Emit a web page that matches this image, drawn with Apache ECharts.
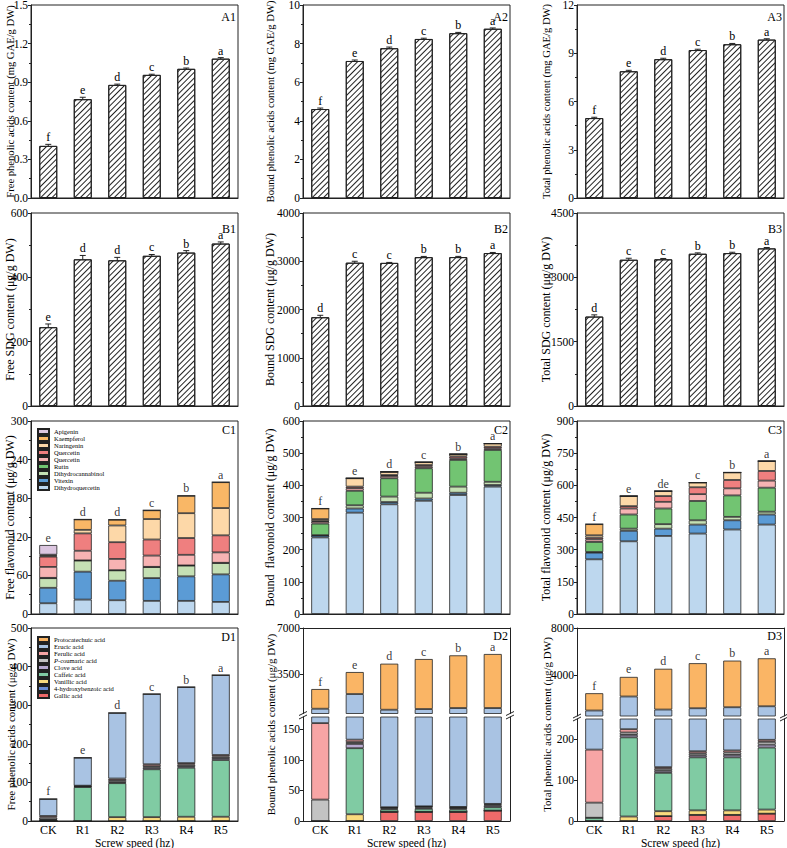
<!DOCTYPE html>
<html>
<head>
<meta charset="utf-8">
<script src="https://cdn.jsdelivr.net/npm/echarts@6/dist/echarts.min.js"></script>
<style>
html, body { margin: 0; padding: 0; background: #fff; }
#chart { width: 787px; height: 848px; }
</style>
</head>
<body>
<div id="chart"></div>
<script>
const categories = ['CK', 'R1', 'R2', 'R3', 'R4', 'R5'];

// A: phenolic acids (mg GAE/g DW)
const freePhenolic = [0.405, 0.768, 0.879, 0.957, 1.004, 1.083];
const freePhenolicErr = [0.012, 0.015, 0.006, 0.005, 0.006, 0.008];
const freePhenolicSig = ['f', 'e', 'd', 'c', 'b', 'a'];
const boundPhenolic = [4.61, 7.10, 7.76, 8.24, 8.54, 8.77];
const boundPhenolicErr = [0.05, 0.05, 0.06, 0.04, 0.04, 0.04];
const boundPhenolicSig = ['f', 'e', 'd', 'c', 'b', 'a'];
const totalPhenolic = [4.97, 7.88, 8.63, 9.20, 9.56, 9.85];
const totalPhenolicErr = [0.05, 0.06, 0.06, 0.05, 0.05, 0.05];
const totalPhenolicSig = ['f', 'e', 'd', 'c', 'b', 'a'];

// B: SDG (μg/g DW)
const freeSDG = [245, 456, 453, 467, 477, 505];
const freeSDGErr = [10, 12, 9, 4, 6, 5];
const freeSDGSig = ['e', 'd', 'd', 'c', 'b', 'a'];
const boundSDG = [1840, 2970, 2966, 3085, 3086, 3170];
const boundSDGErr = [40, 30, 10, 15, 15, 12];
const boundSDGSig = ['d', 'c', 'c', 'b', 'b', 'a'];
const totalSDG = [2085, 3410, 3420, 3550, 3565, 3675];
const totalSDGErr = [40, 35, 20, 20, 20, 20];
const totalSDGSig = ['d', 'c', 'c', 'b', 'b', 'a'];

// C: flavonoids, stacked bottom -> top
const flavonoidNames = ['Dihydroquercetin', 'Vitexin', 'Dihydrocannabinol', 'Rutin', 'Quercetin ', 'Quercetin', 'Naringenin', 'Kaempferol', 'Apigenin'];
const freeFlavonoid = [
  [16.7, 22.4, 21.4, 20.4, 20.4, 18.8],
  [24, 43.4, 30.3, 35.4, 38.1, 42.8],
  [15, 17.2, 16.1, 17.2, 16.7, 17.7],
  [0.5, 0.3, 0.3, 0.3, 0.3, 0.3],
  [17, 15, 17.5, 17.5, 16.5, 16.2],
  [16, 27, 26, 25, 26.1, 26.5],
  [1.5, 5.5, 26, 31.8, 38.6, 42.4],
  [1.5, 16.2, 9, 13.6, 27.1, 40.2],
  [15, 0, 0, 0, 0, 0]
];
const freeFlavonoidSig = ['e', 'd', 'd', 'c', 'b', 'a'];
const boundFlavonoid = [
  [238, 315, 341, 352, 370, 396],
  [6, 13, 7, 7, 7, 5],
  [1, 10, 17, 18, 19, 10],
  [36, 45, 57, 76, 83, 99],
  [6, 8, 7, 5, 5, 5],
  [2, 5, 3, 5, 6, 5],
  [6, 26, 10, 9, 7, 10],
  [33, 0, 0, 0, 0, 0],
  [0, 0, 0, 0, 0, 0]
];
const boundFlavonoidSig = ['f', 'e', 'd', 'c', 'b', 'a'];
const totalFlavonoid = [
  [255, 339, 364, 375, 394, 417],
  [31, 49, 34, 42, 43, 47],
  [3, 10, 21, 20, 16, 13],
  [47, 66, 73, 90, 100, 112],
  [12, 28, 31, 32, 33, 33],
  [8, 11, 27, 32, 39, 45],
  [11, 47, 23, 22, 35, 46],
  [52, 0, 0, 0, 0, 0],
  [0, 0, 0, 0, 0, 0]
];
const totalFlavonoidSig = ['f', 'e', 'de', 'c', 'b', 'a'];

// D: phenolic acid composition, stacked bottom -> top
const acidNames = ['Gallic acid', '4-hydroxybenzoic acid', 'Vanillic acid', 'Caffeic acid', 'Clove acid', 'P-coumaric acid', 'Ferulic acid', 'Erucic acid', 'Protocatechuic acid'];
const freeAcid = [
  [0, 0, 0, 0, 0, 0],
  [0, 0, 0, 0, 0, 0],
  [0, 0, 10, 10, 11, 11],
  [3, 88, 88, 124, 127, 147],
  [1, 1.5, 3, 4, 4, 5],
  [5, 1, 5, 4, 4, 4],
  [4, 1, 4, 5, 4, 4],
  [44, 72.5, 170, 182, 197, 207],
  [0, 0, 0, 0, 0, 0]
];
const freeAcidSig = ['f', 'e', 'd', 'c', 'b', 'a'];
const boundAcid = [
  [0, 0, 15, 15, 15, 17],
  [0, 0, 0, 0, 0, 0],
  [0, 11, 0, 0, 0, 0],
  [0, 108, 4, 5, 4, 5.5],
  [0, 7, 1.5, 2, 2, 2.5],
  [35, 3, 1.5, 1.5, 1.5, 2],
  [125, 4, 0.5, 0.5, 0.5, 1],
  [703, 1846, 765, 814, 891, 886],
  [1496, 1673, 3499, 3803, 4006, 4108]
];
const boundAcidSig = ['f', 'e', 'd', 'c', 'b', 'a'];
const totalAcid = [
  [0, 0, 12, 15, 15, 18],
  [0, 0, 0, 0, 0, 0],
  [0, 11, 12, 11, 11, 10],
  [8, 194, 94, 130, 130, 152],
  [0, 6, 5, 5, 6, 7],
  [37, 6, 5, 5, 6, 7],
  [130, 8, 4, 5, 5, 5],
  [792, 1937, 918, 990, 1072, 1129],
  [1473, 1668, 3475, 3839, 3975, 4087]
];
const totalAcidSig = ['f', 'e', 'd', 'c', 'b', 'a'];

// styling
const flavonoidColors = ['#bdd7ee', '#5b9bd5', '#c5e0b4', '#72c472', '#f7b3b3', '#ef7f7f', '#fdd8a8', '#f9b766', '#dcc6e0'];
const acidColors = ['#f06a6a', '#6b8ed6', '#fadb7e', '#80cba3', '#b7a9cf', '#c3c3c3', '#f7a5a5', '#a9c3e3', '#fab565'];
const FONT = 'Liberation Serif';
const INK = '#222';
const BAR_W = 18;
const colLeft = [31, 303, 577];
const rowTop = [5, 213, 421, 628];
const PW = 207, PH = 193;
const nameGaps = [15, 27, 25];
const nameSizes = [10.6, 12, 12, 11];
const HATCH = { symbol: 'rect', symbolSize: 1, dashArrayX: [1, 0], dashArrayY: [1, 2.2], rotation: -Math.PI / 4, color: INK };
const plain = v => String(v);

const grids = [], xAxes = [], yAxes = [], series = [], graphics = [];

function addGrid(left, top, width, height, frame) {
  grids.push({ left, top, width, height, show: frame, borderColor: INK, borderWidth: 1,
    backgroundColor: 'transparent', containLabel: false, outerBoundsMode: 'none' });
  return grids.length - 1;
}

function addX(gi, opts) {
  opts = opts || {};
  xAxes.push({
    type: 'category', gridIndex: gi, data: categories, boundaryGap: true,
    position: opts.position || 'bottom', show: opts.show !== false,
    axisLine: { show: true, onZero: false, lineStyle: { color: INK, width: 1 } },
    axisTick: { show: false },
    axisLabel: { show: !!opts.labels, color: '#000', fontFamily: FONT, fontSize: 12, margin: 3 },
    splitLine: { show: false },
    name: opts.name || '', nameLocation: 'middle', nameGap: 12,
    nameTextStyle: { color: '#000', fontFamily: FONT, fontSize: 11.5 }
  });
  return xAxes.length - 1;
}

function addY(gi, opts) {
  const ax = {
    type: 'value', gridIndex: gi, min: opts.min, max: opts.max, interval: opts.interval,
    position: opts.position || 'left',
    axisLine: { show: opts.line !== false, onZero: false, lineStyle: { color: INK, width: 1 } },
    axisTick: { show: !!opts.ticks, inside: false, length: 3, lineStyle: { color: INK } },
    minorTick: { show: !!opts.minor, splitNumber: 2, length: 2, lineStyle: { color: INK } },
    axisLabel: { show: !!opts.ticks, color: '#000', fontFamily: FONT, fontSize: 11.5, margin: 3,
      formatter: opts.formatter || plain },
    splitLine: { show: false }, minorSplitLine: { show: false },
    name: opts.name || '', nameLocation: 'middle', nameRotate: 90, nameGap: opts.nameGap || 20,
    nameMoveOverlap: false,
    nameTextStyle: { color: '#000', fontFamily: FONT, fontSize: opts.nameSize || 12 }
  };
  if (opts.custom) {
    ax.axisLabel.customValues = opts.custom;
    ax.axisTick.customValues = opts.custom;
  }
  yAxes.push(ax);
  return yAxes.length - 1;
}

function panelTag(text, gi, dy) {
  const g = grids[gi];
  graphics.push({ type: 'text', right: 787 - (g.left + g.width) + 2, top: g.top + dy,
    style: { text, font: '12px ' + FONT, fill: '#000' } });
}

function errorBar(api, sig) {
  const i = api.value(0), v = api.value(1), e = api.value(2);
  const hi = api.coord([i, v + e]), lo = api.coord([i, v - e]);
  const x = hi[0], cap = 3;
  const st = { stroke: INK, lineWidth: 1 };
  return { type: 'group', children: [
    { type: 'line', shape: { x1: x, y1: hi[1], x2: x, y2: lo[1] }, style: st },
    { type: 'line', shape: { x1: x - cap, y1: hi[1], x2: x + cap, y2: hi[1] }, style: st },
    { type: 'line', shape: { x1: x - cap, y1: lo[1], x2: x + cap, y2: lo[1] }, style: st },
    { type: 'text', x: x, y: hi[1] - 1, style: { text: sig[i], align: 'center', verticalAlign: 'bottom', fill: '#000', font: '12px ' + FONT } }
  ] };
}

function hatchPanel(col, row, vals, errs, sig, max, interval, name, tag, digits) {
  const gi = addGrid(colLeft[col], rowTop[row], PW, PH, true);
  const xi = addX(gi);
  const yi = addY(gi, { min: 0, max, interval, ticks: true, minor: true, name, nameGap: nameGaps[col],
    nameSize: nameSizes[row], formatter: v => v.toFixed(digits) });
  series.push({ type: 'bar', xAxisIndex: xi, yAxisIndex: yi, data: vals, barWidth: BAR_W, silent: true,
    itemStyle: { color: '#fff', borderColor: INK, borderWidth: 1, decal: HATCH } });
  series.push({ type: 'custom', xAxisIndex: xi, yAxisIndex: yi, silent: true,
    data: vals.map((v, i) => [i, v, errs[i]]),
    renderItem: (p, api) => errorBar(api, sig) });
  panelTag(tag, gi, row === 0 ? 6 : 10);
}

function stackBars(comps, names, colors, xi, yi, stack) {
  comps.forEach((vals, k) => series.push({
    type: 'bar', name: names[k], xAxisIndex: xi, yAxisIndex: yi, stack, data: vals, barWidth: BAR_W,
    silent: true, itemStyle: { color: colors[k], borderColor: INK, borderWidth: 0.8 }
  }));
}

function sigLabels(comps, sig, xi, yi) {
  const totals = categories.map((_, i) => comps.reduce((s, r) => s + r[i], 0));
  series.push({ type: 'scatter', xAxisIndex: xi, yAxisIndex: yi, data: totals, symbolSize: 1, silent: true,
    itemStyle: { color: 'rgba(0,0,0,0)' },
    label: { show: true, position: 'top', distance: 1, formatter: p => sig[p.dataIndex],
      color: '#000', fontFamily: FONT, fontSize: 12 } });
}

function stackPanel(col, row, comps, names, colors, sig, max, interval, name, tag, withX) {
  const gi = addGrid(colLeft[col], rowTop[row], PW, PH, true);
  const xi = addX(gi, withX ? { labels: true, name: 'Screw speed (hz)' } : {});
  const yi = addY(gi, { min: 0, max, interval, ticks: true, minor: true, name, nameGap: nameGaps[col],
    nameSize: nameSizes[row] });
  stackBars(comps, names, colors, xi, yi, 'p' + gi);
  sigLabels(comps, sig, xi, yi);
  panelTag(tag, gi, 3);
}

function brokenPanel(col, comps, names, colors, sig, cfg, name, tag) {
  const left = colLeft[col], top = rowTop[3];
  const lowTop = top + cfg.upperH + cfg.gap;
  const giU = addGrid(left, top, PW, cfg.upperH, false);
  const giL = addGrid(left, lowTop, PW, top + PH - lowTop, false);
  const giN = addGrid(left, top, PW, PH, false);
  // upper segment
  const xiU = addX(giU, { position: 'top' });
  const yiU = addY(giU, { min: cfg.upMin, max: cfg.upMax, ticks: true, custom: cfg.upTicks });
  addY(giU, { min: cfg.upMin, max: cfg.upMax, position: 'right' });
  stackBars(comps, names, colors, xiU, yiU, 'u' + giU);
  sigLabels(comps, sig, xiU, yiU);
  // lower segment
  const xiL = addX(giL, { labels: true, name: 'Screw speed (hz)' });
  const yiL = addY(giL, { min: 0, max: cfg.lowMax, ticks: true, custom: cfg.lowTicks });
  addY(giL, { min: 0, max: cfg.lowMax, position: 'right' });
  stackBars(comps, names, colors, xiL, yiL, 'l' + giL);
  // axis title spanning both segments
  addX(giN, { show: false });
  addY(giN, { min: 0, max: 1, line: false, name, nameGap: nameGaps[col], nameSize: nameSizes[3] });
  panelTag(tag, giU, 2);
  // break marks on both sides
  [left, left + PW].forEach(x => {
    [top + cfg.upperH, lowTop].forEach(y => {
      graphics.push({ type: 'line', shape: { x1: x - 4, y1: y + 2, x2: x + 4, y2: y - 2 },
        style: { stroke: INK, lineWidth: 1 } });
    });
  });
}

hatchPanel(0, 0, freePhenolic, freePhenolicErr, freePhenolicSig, 1.5, 0.3, 'Free phenolic acids content (mg GAE/g DW)', 'A1', 1);
hatchPanel(1, 0, boundPhenolic, boundPhenolicErr, boundPhenolicSig, 10, 2, 'Bound phenolic acids content (mg GAE/g DW)', 'A2', 0);
hatchPanel(2, 0, totalPhenolic, totalPhenolicErr, totalPhenolicSig, 12, 3, 'Total phenolic acids content (mg GAE/g DW)', 'A3', 0);
hatchPanel(0, 1, freeSDG, freeSDGErr, freeSDGSig, 600, 200, 'Free SDG content (μg/g DW)', 'B1', 0);
hatchPanel(1, 1, boundSDG, boundSDGErr, boundSDGSig, 4000, 1000, 'Bound SDG content (μg/g DW)', 'B2', 0);
hatchPanel(2, 1, totalSDG, totalSDGErr, totalSDGSig, 4500, 1500, 'Total SDG content (μg/g DW)', 'B3', 0);

stackPanel(0, 2, freeFlavonoid, flavonoidNames, flavonoidColors, freeFlavonoidSig, 300, 60, 'Free flavonoid content (μg/g DW)', 'C1');
stackPanel(1, 2, boundFlavonoid, flavonoidNames, flavonoidColors, boundFlavonoidSig, 600, 100, 'Bound  flavonoid content (μg/g DW)', 'C2');
stackPanel(2, 2, totalFlavonoid, flavonoidNames, flavonoidColors, totalFlavonoidSig, 900, 150, 'Total flavonoid content (μg/g DW)', 'C3');

stackPanel(0, 3, freeAcid, acidNames, acidColors, freeAcidSig, 500, 100, 'Free phenolic acids content (μg/g DW)', 'D1', true);
brokenPanel(1, boundAcid, acidNames, acidColors, boundAcidSig,
  { upperH: 85.5, gap: 3.5, upMin: 500, upMax: 7000, upTicks: [3500, 7000], lowMax: 170, lowTicks: [0, 50, 100, 150] },
  'Bound phenolic acids content (μg/g DW)', 'D2');
brokenPanel(2, totalAcid, acidNames, acidColors, totalAcidSig,
  { upperH: 88, gap: 3, upMin: 500, upMax: 8000, upTicks: [4000, 8000], lowMax: 250, lowTicks: [0, 100, 200] },
  'Total phenolic acids content (μg/g DW)', 'D3');

const legendText = { color: '#000', fontFamily: FONT, fontSize: 6.5, lineHeight: 7,
  rich: { i: { fontStyle: 'italic', fontFamily: FONT, fontSize: 6.5, lineHeight: 7, color: '#000' } } };

const chart = echarts.init(document.getElementById('chart'), null, { renderer: 'svg' });
chart.setOption({
  animation: false,
  backgroundColor: '#fff',
  grid: grids,
  xAxis: xAxes,
  yAxis: yAxes,
  series: series,
  graphic: graphics,
  legend: [
    { orient: 'vertical', left: 32, top: 423, itemWidth: 11, itemHeight: 5, itemGap: 0, icon: 'rect',
      selectedMode: false, data: flavonoidNames.slice().reverse(), textStyle: legendText },
    { orient: 'vertical', left: 32, top: 631, itemWidth: 11, itemHeight: 5, itemGap: 0, icon: 'rect',
      selectedMode: false, data: acidNames.slice().reverse(), textStyle: legendText,
      formatter: n => n.startsWith('P-') ? '{i|P}' + n.slice(1) : n }
  ]
});
</script>
</body>
</html>
